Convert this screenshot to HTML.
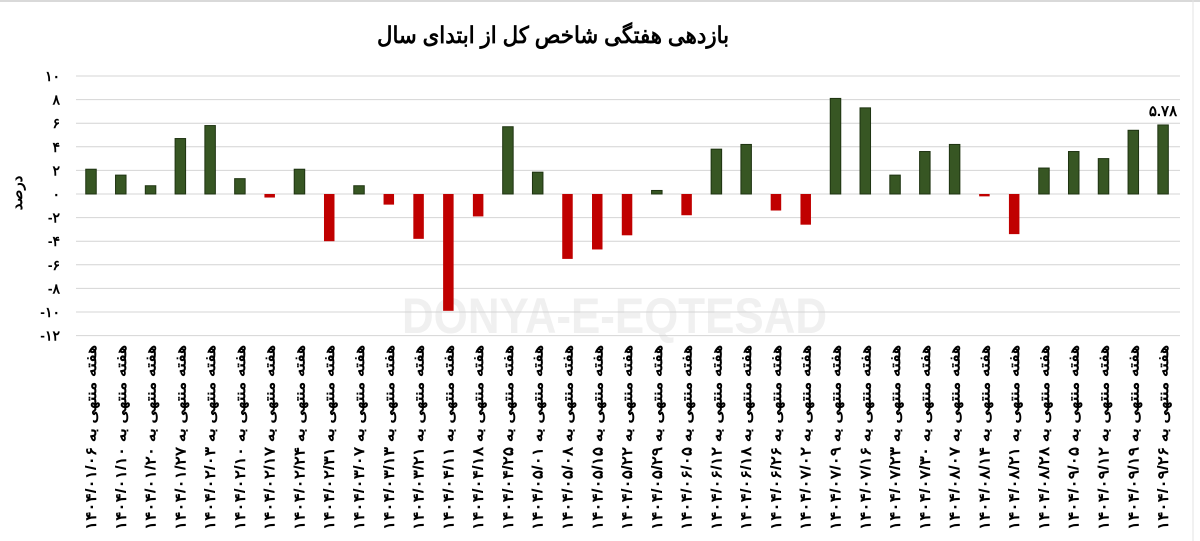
<!DOCTYPE html>
<html><head><meta charset="utf-8"><style>
html,body{margin:0;padding:0;background:#fff}
svg{display:block}
text{font-family:"Liberation Sans","Noto Sans CJK SC",sans-serif}
</style></head><body>
<svg width="1200" height="541" viewBox="0 0 1200 541" xmlns="http://www.w3.org/2000/svg">
<rect x="0" y="0" width="1200" height="541" fill="#fff"/>
<line x1="0" y1="1" x2="1200" y2="1" stroke="#d9d9d9" stroke-width="2"/>
<line x1="1193" y1="0" x2="1193" y2="541" stroke="#e3e3e3" stroke-width="1"/>
<text x="402" y="333" font-size="50" font-weight="bold" fill="#f0f0f0" textLength="425" lengthAdjust="spacingAndGlyphs">DONYA-E-EQTESAD</text>
<text x="553" y="43" text-anchor="middle" font-size="23" font-weight="bold" fill="#000" font-family="'DejaVu Sans',sans-serif" textLength="352" lengthAdjust="spacingAndGlyphs">بازدهی هفتگی شاخص کل از ابتدای سال</text>
<g id="grid" stroke="#d4d4d4" stroke-width="1"></g>
<g id="ylab" font-size="14" font-weight="bold" fill="#000" text-anchor="end"></g>
<text transform="translate(22,193) rotate(-90)" text-anchor="middle" font-size="15" font-weight="bold" font-family="'DejaVu Sans',sans-serif">درصد</text>
<g id="bars"></g>
<g id="xlab" font-size="15" font-weight="bold" fill="#000" font-family="'DejaVu Sans',sans-serif"></g>
<text x="1163" y="116" text-anchor="middle" font-size="15" font-weight="bold" font-family="'DejaVu Sans',sans-serif">۵.۷۸</text>
</svg>
<script>
const NS="http://www.w3.org/2000/svg";
const fa=s=>String(s).replace(/\d/g,d=>"۰۱۲۳۴۵۶۷۸۹"[d]);
const z=194,u=11.8;
const grid=document.getElementById('grid'),yl=document.getElementById('ylab');
for(let v=10;v>=-12;v-=2){const y=z-v*u;
 const l=document.createElementNS(NS,'line');l.setAttribute('x1',76);l.setAttribute('x2',1180);l.setAttribute('y1',y);l.setAttribute('y2',y);grid.appendChild(l);
 const t=document.createElementNS(NS,'text');t.setAttribute('x',60);t.setAttribute('y',y+5);t.textContent=(v<0?'-':'')+fa(Math.abs(v));yl.appendChild(t);}
const vals=[2.1,1.6,0.7,4.7,5.8,1.3,-0.3,2.1,-4.0,0.7,-0.9,-3.8,-9.9,-1.9,5.7,1.85,-5.5,-4.7,-3.5,0.3,-1.8,3.8,4.2,-1.4,-2.6,8.1,7.3,1.6,3.6,4.2,-0.2,-3.4,2.2,3.6,3.0,5.4,5.85];
const dates=["01/06","01/10","01/20","01/27","02/03","02/10","02/17","02/24","02/31","03/07","03/13","03/21","04/11","04/18","04/25","05/01","05/08","05/15","05/22","05/29","06/05","06/12","06/18","06/26","07/02","07/09","07/16","07/23","07/30","08/07","08/14","08/21","08/28","09/05","09/12","09/19","09/26"];
const bars=document.getElementById('bars'),xl=document.getElementById('xlab');
vals.forEach((v,i)=>{const cx=91+i*29.78,w=10.5,h=Math.abs(v)*u;
 const r=document.createElementNS(NS,'rect');r.setAttribute('x',cx-w/2);r.setAttribute('width',w);
 r.setAttribute('y',v>=0?z-h:z);r.setAttribute('height',Math.max(h,1.5));
 if(v>=0){r.setAttribute('fill','#375623');r.setAttribute('stroke','#1e3311');r.setAttribute('stroke-width','1');}else r.setAttribute('fill','#c00000');
 bars.appendChild(r);
 const t=document.createElementNS(NS,'text');t.setAttribute('transform',`translate(${cx+5},345) rotate(-90)`);t.setAttribute('text-anchor','end');
 t.setAttribute('textLength','185');t.setAttribute('lengthAdjust','spacingAndGlyphs');
 t.textContent='هفته منتهی به '+fa('1404/'+dates[i]);xl.appendChild(t);});
</script>
</body></html>
